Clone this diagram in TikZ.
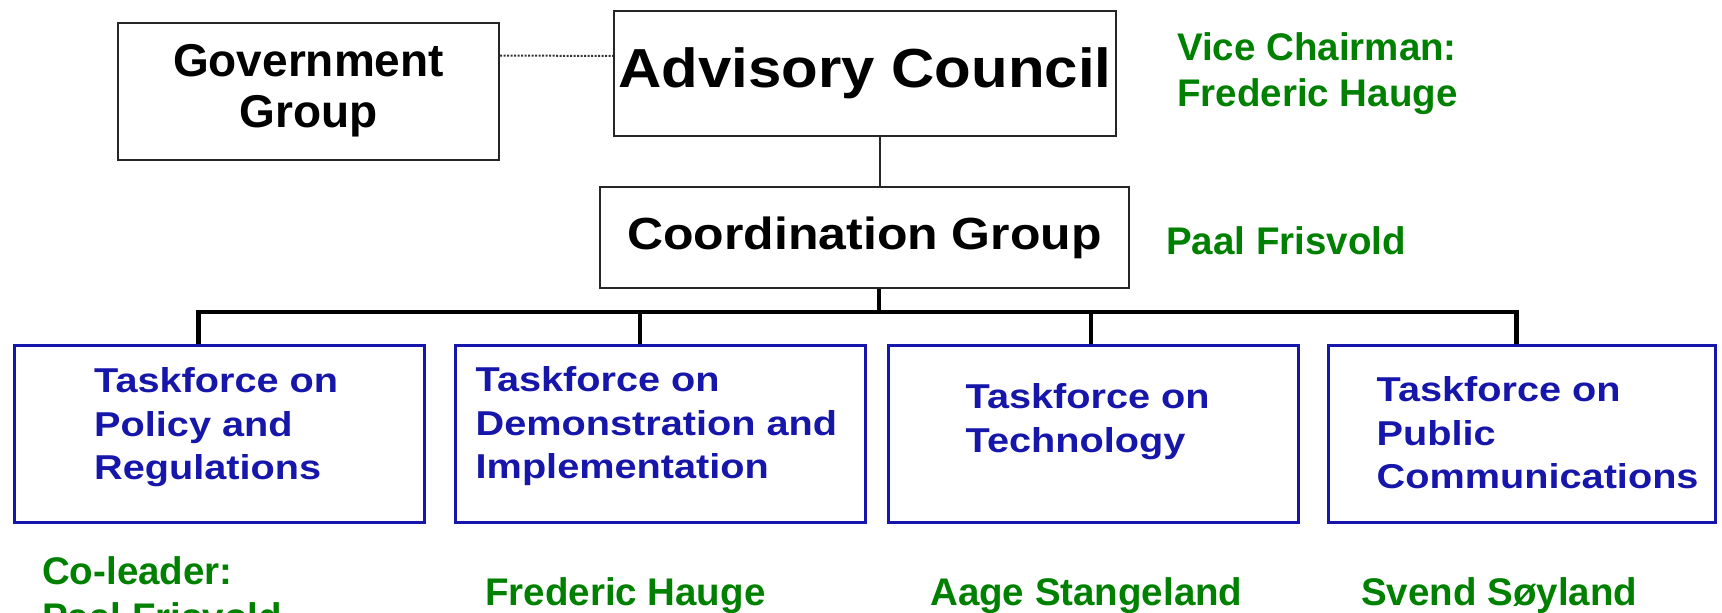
\documentclass[tikz,border=0pt]{standalone}
\usepackage{fontspec}
\setmainfont{Liberation Sans}
\newfontfamily\advfont[FakeStretch=1.09]{Liberation Sans}
\newfontfamily\coordfont[FakeStretch=1.11]{Liberation Sans}
\newfontfamily\tffont[FakeStretch=1.15]{Liberation Sans}
\usetikzlibrary{positioning}

\definecolor{tfblue}{RGB}{22,22,170}
\definecolor{leadgreen}{RGB}{0,128,0}

\begin{document}
\begin{tikzpicture}[x=1pt, y=-1pt,
    blackbox/.style={draw=black!85, line width=2pt, inner sep=0pt},
    tfbox/.style={draw=tfblue, line width=3pt, minimum width=410pt, minimum height=177pt, inner sep=0pt},
    tftext/.style={text=tfblue, font={\tffont\bfseries\fontsize{34.5}{43.5}\selectfont}, align=left, inner sep=0pt},
    leader/.style={text=leadgreen, font={\bfseries\fontsize{38.5}{46}\selectfont}, align=left, inner sep=0pt, anchor=north west},
    link/.style={black!85, line width=2.5pt},
    bus/.style={black, line width=4.5pt},
    govlink/.style={black!80, line width=2pt, dash pattern=on 2pt off 1.5pt}]

    \useasboundingbox (0,0) rectangle (1722,613);

% top
\node[blackbox, minimum width=381pt, minimum height=137pt, align=center, font={\bfseries\fontsize{46}{51}\selectfont}] (gov) at (308.5,91) {Government\\Group};
\node[blackbox, minimum width=502pt, minimum height=125pt, font={\advfont\bfseries\fontsize{55}{60}\selectfont}] (adv) at (865,73.5) {Advisory Council};
\node[blackbox, minimum width=529pt, minimum height=101pt, font={\coordfont\bfseries\fontsize{45}{50}\selectfont}] (coord) at (864.5,237.5) {Coordination Group};

\draw[govlink] ([yshift=-34pt]gov.north east) -- ([yshift=-46pt]adv.north west);
\draw[link] ([xshift=15pt]adv.south) -- ([xshift=15pt]adv.south |- coord.north);

% taskforces
\node[tfbox] (tf1) at (219.5,433.5) {};
\node[tfbox] (tf2) at (660,433.5) {};
\node[tfbox] (tf3) at (1093,433.5) {};
\node[tfbox, minimum width=387pt] (tf4) at (1521.5,433.5) {};

\node[tftext, below right=24pt and 81pt of tf1.north west] (tf1-text) {Taskforce on\\Policy and\\Regulations};
\node[tftext, below right=23pt and 22pt of tf2.north west] (tf2-text) {Taskforce on\\Demonstration and\\Implementation};
\node[tftext, below right=40pt and 79pt of tf3.north west] (tf3-text) {Taskforce on\\Technology};
\node[tftext, below right=33pt and 50pt of tf4.north west] (tf4-text) {Taskforce on\\Public\\Communications};

% lignes
\coordinate (bus) at (879,312);
\draw[bus] (coord.south -| bus) -- (bus);
\draw[bus] ([xshift=-21pt]tf1.north) |- (bus) -| ([xshift=-5pt]tf4.north);
\draw[bus] ([xshift=-20pt]tf2.north) -- ([xshift=-20pt]tf2.north |- bus);
\draw[bus] ([xshift=-2pt]tf3.north) -- ([xshift=-2pt]tf3.north |- bus);

% leaders
\node[leader] (adv-lead) at (1177,32) {Vice Chairman:\\Frederic Hauge};
\node[leader] (coord-lead) at (1166,226) {Paal Frisvold};
\node[leader] (tf1-lead) at (42,556) {Co-leader:\\Paal Frisvold};
\node[leader] (tf2-lead) at (485,577) {Frederic Hauge};
\node[leader] (tf3-lead) at (930,577) {Aage Stangeland};
\node[leader] (tf4-lead) at (1361,577) {Svend Søyland};

\end{tikzpicture}
\end{document}
